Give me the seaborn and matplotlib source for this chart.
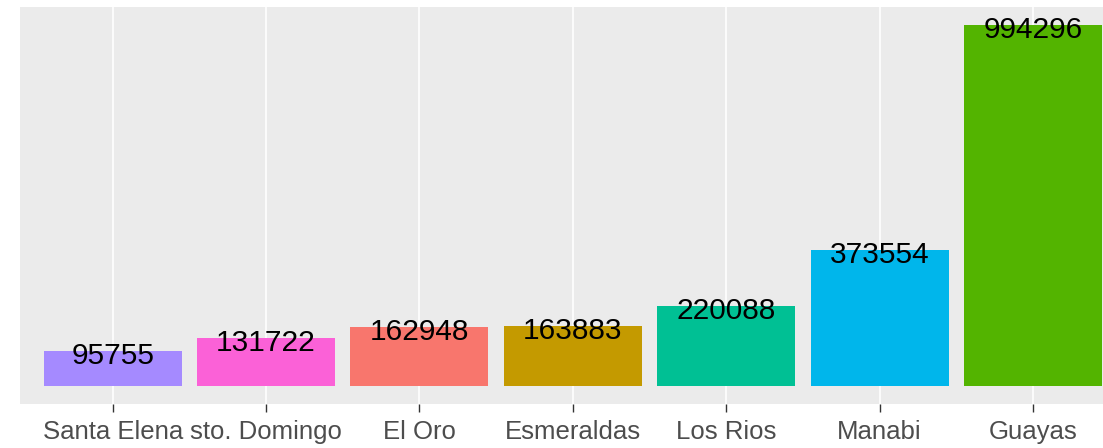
import numpy as np
import pandas as pd
import seaborn as sns
import matplotlib.pyplot as plt

# Values
provinces = ["Santa Elena", "sto. Domingo", "El Oro", "Esmeraldas", "Los Rios", "Manabi", "Guayas"]
totals = [95755, 131722, 162948, 163883, 220088, 373554, 994296]
colors = ["#A58AFF", "#FB61D7", "#F8766D", "#C49A00", "#00C094", "#00B6EB", "#53B400"]

df = pd.DataFrame({"provincia": provinces, "total": totals})
palette = dict(zip(provinces, colors))

sns.set_style("darkgrid", {"axes.facecolor": "#EBEBEB", "grid.color": "white"})
plt.rcParams["font.family"] = ["Liberation Sans", "DejaVu Sans"]

fig = plt.figure(figsize=(11.03, 4.48), dpi=100)
ax = fig.add_axes([20 / 1103, 1 - 404 / 448, 1 - 20 / 1103, (404 - 7) / 448])

sns.barplot(data=df, x="provincia", y="total", hue="provincia", palette=palette,
            order=provinces, hue_order=provinces, width=0.9, saturation=1,
            legend=False, linewidth=0, ax=ax)

# value labels centred on the bar tops
for i, v in enumerate(totals):
    ax.annotate(str(v), (i, v), xytext=(0, -3.5), textcoords="offset points",
                ha="center", va="center", fontsize=21.5, color="black")

rng = max(totals)
ax.set_ylim(-0.05 * rng, rng * 1.05)
ax.set_xlim(-0.604, 6.456)

ax.grid(axis="y", visible=False)
ax.grid(axis="x", color="white", linewidth=1.2)
ax.set_yticks([])
ax.set_xlabel("")
ax.set_ylabel("")
ax.tick_params(axis="x", length=5.5, width=1, color="#333333", labelsize=18.5,
               labelcolor="#4D4D4D", pad=6, bottom=True)
for s in ax.spines.values():
    s.set_visible(False)

fig.savefig("out.png", dpi=100)
